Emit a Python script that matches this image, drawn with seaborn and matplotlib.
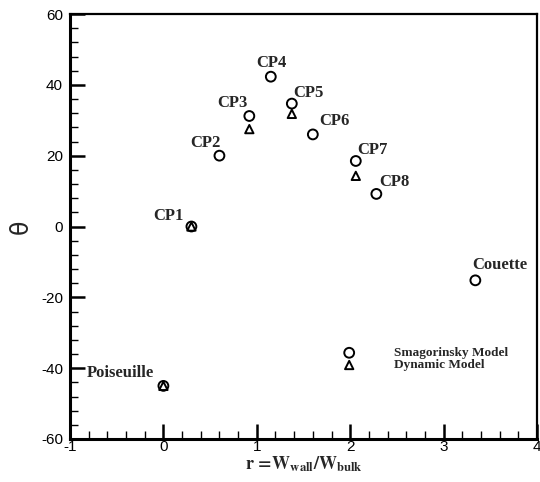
import matplotlib
matplotlib.use("Agg")
import matplotlib.pyplot as plt
import seaborn as sns
import pandas as pd
from matplotlib.ticker import MultipleLocator

labels = ["Poiseuille", "CP1", "CP2", "CP3", "CP4", "CP5", "CP6", "CP7", "CP8", "Couette"]
smag_r = [0.0, 0.3, 0.6, 0.92, 1.15, 1.375, 1.6, 2.06, 2.28, 3.34]
smag_theta = [-45.0, 0.0, 20.0, 31.2, 42.3, 34.7, 26.0, 18.5, 9.2, -15.2]
dyn_r = [0.0, 0.3, 0.92, 1.375, 2.06]
dyn_theta = [-45.0, 0.0, 27.5, 31.8, 14.3]

sns.set_style("white")
plt.rcParams['font.family'] = ['Liberation Sans', 'DejaVu Sans']
plt.rcParams['axes.unicode_minus'] = False
plt.rcParams['mathtext.fontset'] = 'stix'

fig = plt.figure(figsize=(5.4, 4.82), dpi=100)
ax = fig.add_axes([70/540, 1 - 439/482, (537-70)/540, (439-14)/482])

df_s = pd.DataFrame({"r": smag_r, "theta": smag_theta})
df_d = pd.DataFrame({"r": dyn_r, "theta": dyn_theta})
sns.scatterplot(data=df_s, x="r", y="theta", ax=ax, marker="o", s=50,
                facecolor="none", edgecolor="black", linewidth=1.4, label="Smagorinsky Model", legend=False)
sns.scatterplot(data=df_d, x="r", y="theta", ax=ax, marker="^", s=36,
                facecolor="none", edgecolor="black", linewidth=1.4, label="Dynamic Model", legend=False)

ax.set_xlim(-1, 4)
ax.set_ylim(-60, 60)
ax.xaxis.set_major_locator(MultipleLocator(1))
ax.xaxis.set_minor_locator(MultipleLocator(0.2))
ax.yaxis.set_major_locator(MultipleLocator(20))
ax.yaxis.set_minor_locator(MultipleLocator(4))
ax.tick_params(which="both", direction="in", bottom=True, left=True, top=False, right=False,
               labelsize=11, color="black", labelcolor="black")
ax.tick_params(axis="y", which="both", pad=5)
ax.tick_params(axis="x", which="both", pad=1)
ax.tick_params(which="major", length=11, width=1.8)
ax.tick_params(which="minor", length=6, width=1.0)
for s in ["left", "bottom"]:
    ax.spines[s].set_linewidth(2.2)
for s in ["top", "right"]:
    ax.spines[s].set_linewidth(1.6)
for s in ax.spines.values():
    s.set_color("black")

serif = dict(family=["Liberation Serif", "DejaVu Serif"], fontweight="bold", fontsize=12)
offsets = {
    "Poiseuille": (-0.457, 2.4),
    "CP1": (-0.245, 1.8),
    "CP2": (-0.15, 2.5),
    "CP3": (-0.185, 2.5),
    "CP4": (0.01, 2.8),
    "CP5": (0.175, 1.8),
    "CP6": (0.227, 2.7),
    "CP7": (0.18, 2.0),
    "CP8": (0.19, 2.2),
    "Couette": (0.26, 3.1),
}
for lab, x, y in zip(labels, smag_r, smag_theta):
    dx, dy = offsets[lab]
    ax.text(x + dx, y + dy, lab, ha="center", va="baseline", **serif)

leg = ax.legend(loc="upper left", bbox_to_anchor=((336 - 70) / 467, (439 - 347) / 425), frameon=False,
                prop=dict(family="Liberation Serif", weight="bold", size=9.5),
                handletextpad=2.4, labelspacing=0.0, borderaxespad=0, borderpad=0)

ax.set_xlabel(r"$\mathbf{r\,=\!W}_{\mathbf{wall}}\mathbf{/W}_{\mathbf{bulk}}$", fontsize=13, labelpad=0)
ax.set_ylabel("θ", fontsize=17, family=["DejaVu Sans"])
ax.yaxis.set_label_coords((33 - 70) / 467, 0.5)

fig.savefig("out.png", dpi=100)
